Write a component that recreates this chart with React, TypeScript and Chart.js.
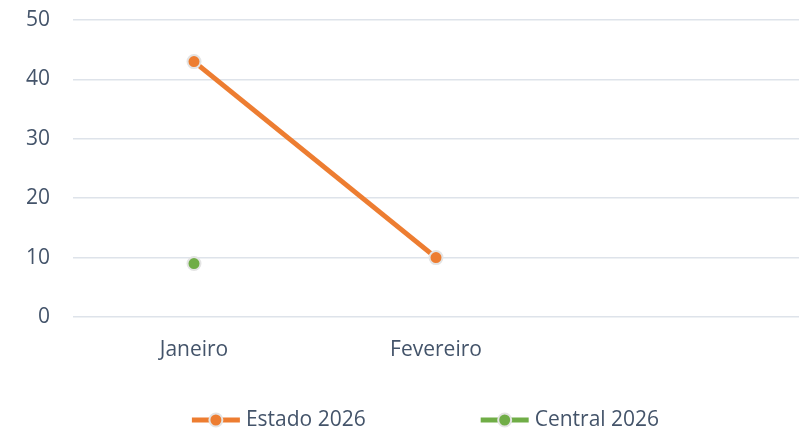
import React, { useEffect, useRef } from "react";
import { Chart, registerables } from "chart.js";

Chart.register(...registerables);

const categories = ["Janeiro", "Fevereiro", ""];
const estado2026 = [43, 10, null];
const central2026 = [9, null, null];
const seriesNames = ["Estado 2026", "Central 2026"];
const seriesColors = ["#ED7D31", "#70AD47"];
const yMin = 0;
const yMax = 50;
const yStep = 10;

const FONT = "'Open Sans', 'Noto Sans', sans-serif";
const TEXT_COLOR = "#44546A";

const legendPlugin = {
  id: "lineLegend",
  afterDraw(chart: any) {
    const ctx = chart.ctx;
    const datasets = chart.data.datasets;
    ctx.save();
    ctx.font = `21px ${FONT}`;
    ctx.textBaseline = "middle";
    ctx.textAlign = "left";
    const markerW = 48;
    const gapText = 6;
    const gapItems = 115;
    const widths = datasets.map((d: any) => markerW + gapText + ctx.measureText(d.label).width);
    const total = widths.reduce((a: number, b: number) => a + b, 0) + gapItems * (datasets.length - 1);
    let x = chart.width / 2 + 26 - total / 2;
    const y = chart.height - 11;
    datasets.forEach((d: any, i: number) => {
      ctx.strokeStyle = d.borderColor;
      ctx.lineWidth = 5;
      ctx.beginPath();
      ctx.moveTo(x, y);
      ctx.lineTo(x + markerW, y);
      ctx.stroke();
      ctx.beginPath();
      ctx.arc(x + markerW / 2, y, 6.5, 0, Math.PI * 2);
      ctx.fillStyle = d.pointBackgroundColor;
      ctx.fill();
      ctx.lineWidth = 2;
      ctx.strokeStyle = d.pointBorderColor;
      ctx.stroke();
      ctx.fillStyle = TEXT_COLOR;
      ctx.fillText(d.label, x + markerW + gapText, y);
      x += widths[i] + gapItems;
    });
    ctx.restore();
  },
};

export default function App() {
  const ref = useRef<HTMLCanvasElement | null>(null);
  useEffect(() => {
    if (!ref.current) return;
    const mk = (label: string, data: (number | null)[], color: string) => ({
      label,
      data,
      borderColor: color,
      backgroundColor: color,
      borderWidth: 5,
      pointRadius: 6.5,
      pointHoverRadius: 6.5,
      pointBackgroundColor: color,
      pointBorderColor: "#E4E4E4",
      pointBorderWidth: 2,
      tension: 0,
      spanGaps: false,
    });
    const chart = new Chart(ref.current, {
      type: "line",
      data: {
        labels: categories,
        datasets: [
          mk(seriesNames[0], estado2026, seriesColors[0]),
          mk(seriesNames[1], central2026, seriesColors[1]),
        ],
      },
      plugins: [legendPlugin],
      options: {
        animation: false,
        responsive: true,
        maintainAspectRatio: false,
        layout: { autoPadding: false, padding: { top: 20, right: 0, bottom: 0, left: 0 } },
        plugins: {
          legend: { display: false },
          tooltip: { enabled: false },
        },
        scales: {
          x: {
            offset: true,
            grid: { display: false, drawTicks: false },
            border: { display: false },
            ticks: {
              padding: 20,
              color: TEXT_COLOR,
              font: { family: FONT, size: 21 },
              maxRotation: 0,
            },
            afterFit: (s: any) => {
              s.height = 114;
              s.paddingLeft = 0;
              s.paddingRight = 0;
            },
          },
          y: {
            min: yMin,
            max: yMax,
            grid: { color: "#DEE3EA", lineWidth: 1.5, drawTicks: false },
            border: { display: false },
            ticks: {
              stepSize: yStep,
              padding: 23,
              color: TEXT_COLOR,
              font: { family: FONT, size: 21 },
            },
            afterFit: (s: any) => {
              s.width = 73;
              s.paddingTop = 0;
              s.paddingBottom = 0;
            },
          },
        },
      },
    });
    return () => chart.destroy();
  }, []);
  return (
    <div style={{ position: "fixed", left: 0, top: 0, width: 799, height: 431, background: "#fff" }}>
      <canvas ref={ref} />
    </div>
  );
}
